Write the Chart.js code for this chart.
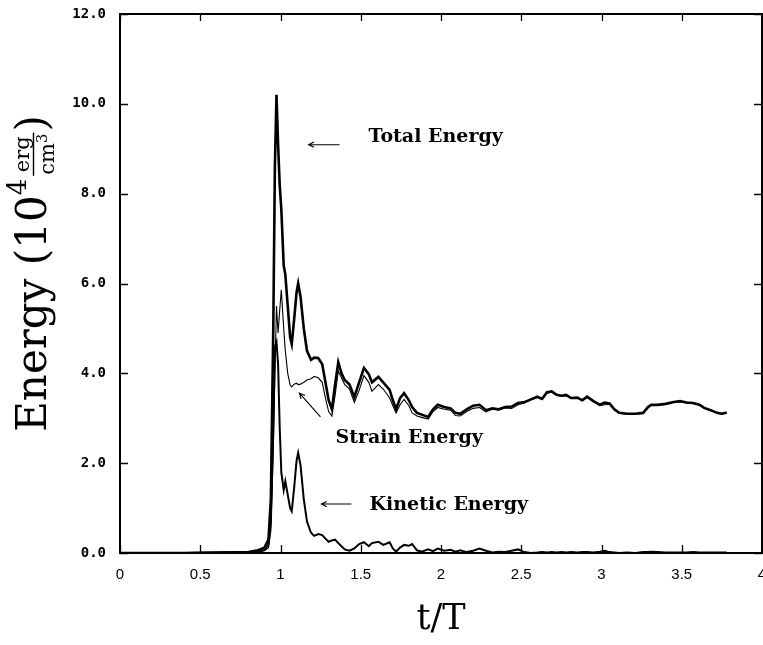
<!DOCTYPE html>
<html>
<head>
<meta charset="utf-8">
<title>Energy vs t/T</title>
<script src="https://cdn.jsdelivr.net/npm/chart.js@4.4.1/dist/chart.umd.min.js"></script>
<style>
  html, body { margin: 0; padding: 0; background: #fff; overflow: hidden; }
  canvas { display: block; }
</style>
</head>
<body>
<canvas id="energy-chart" width="763" height="645"></canvas>
<script>
// === Energy history: total / strain / kinetic ===

// time axis (t/T), shared by the three curves
const tT = [
  0.00, 0.40, 0.80, 0.86, 0.90, 0.925, 0.94, 0.955, 0.965, 0.975,
  0.985, 0.995, 1.005, 1.02, 1.03, 1.045, 1.06, 1.07, 1.085, 1.10,
  1.11, 1.125, 1.145, 1.165, 1.19, 1.21, 1.235, 1.26, 1.28, 1.30,
  1.32, 1.34, 1.36, 1.38, 1.40, 1.43, 1.46, 1.49, 1.52, 1.55,
  1.57, 1.61, 1.64, 1.68, 1.70, 1.72, 1.745, 1.77, 1.80, 1.82,
  1.85, 1.88, 1.92, 1.95, 1.98, 2.02, 2.06, 2.09, 2.12, 2.16,
  2.20, 2.24, 2.28, 2.32, 2.36, 2.40, 2.44, 2.48, 2.52, 2.56,
  2.60, 2.63, 2.66, 2.69, 2.72, 2.75, 2.78, 2.81, 2.85, 2.88,
  2.91, 2.95, 2.99, 3.02, 3.05, 3.08, 3.11, 3.16, 3.21, 3.26,
  3.29, 3.31, 3.35, 3.40, 3.45, 3.49, 3.53, 3.57, 3.61, 3.64,
  3.68, 3.72, 3.75, 3.78
];

// Energy (10^4 erg/cm^3)
const totalEnergy = [
  0, 0, 0.02, 0.06, 0.12, 0.30, 1.2, 5.0, 8.6, 10.2,
  9.1, 8.2, 7.66, 6.4, 6.2, 5.5, 4.8, 4.65, 5.2, 5.8,
  6.0, 5.7, 5.0, 4.5, 4.3, 4.35, 4.34, 4.2, 3.8, 3.4,
  3.2, 3.75, 4.25, 4.0, 3.85, 3.75, 3.47, 3.8, 4.12, 3.98,
  3.8, 3.92, 3.8, 3.63, 3.4, 3.2, 3.45, 3.56, 3.4, 3.25,
  3.12, 3.08, 3.03, 3.2, 3.3, 3.25, 3.22, 3.12, 3.1, 3.2,
  3.28, 3.3, 3.18, 3.22, 3.2, 3.25, 3.26, 3.34, 3.36, 3.42,
  3.48, 3.43, 3.58, 3.6, 3.52, 3.5, 3.52, 3.45, 3.46, 3.4,
  3.48, 3.38, 3.3, 3.35, 3.33, 3.2, 3.12, 3.1, 3.1, 3.12,
  3.25, 3.3, 3.3, 3.32, 3.36, 3.38, 3.35, 3.34, 3.3, 3.23,
  3.18, 3.12, 3.1, 3.13
];

const strainEnergy = [
  0, 0, 0, 0.02, 0.05, 0.12, 0.5, 2.3, 4.0, 5.5,
  4.9, 5.4, 5.86, 5.0, 4.5, 4.0, 3.74, 3.7, 3.76, 3.78,
  3.75, 3.76, 3.8, 3.85, 3.88, 3.93, 3.9, 3.8, 3.45, 3.15,
  3.05, 3.5, 4.05, 3.9, 3.75, 3.65, 3.35, 3.62, 3.95, 3.8,
  3.6, 3.75, 3.65, 3.45, 3.28, 3.12, 3.3, 3.42, 3.28, 3.12,
  3.05, 3.02, 2.98, 3.15, 3.24, 3.2, 3.18, 3.06, 3.05, 3.15,
  3.22, 3.24, 3.14, 3.2, 3.18, 3.23, 3.22, 3.3, 3.34, 3.41,
  3.46, 3.42, 3.56, 3.58, 3.51, 3.49, 3.5, 3.44, 3.45, 3.39,
  3.46, 3.37, 3.28, 3.3, 3.31, 3.19, 3.11, 3.09, 3.09, 3.1,
  3.23, 3.28, 3.28, 3.31, 3.35, 3.37, 3.34, 3.33, 3.29, 3.22,
  3.17, 3.11, 3.09, 3.12
];

const kineticEnergy = [
  0, 0, 0.02, 0.04, 0.07, 0.18, 0.7, 2.7, 4.6, 4.7,
  4.2, 2.8, 1.8, 1.4, 1.6, 1.3, 1.0, 0.93, 1.45, 2.05,
  2.23, 1.95, 1.2, 0.7, 0.45, 0.38, 0.42, 0.4, 0.32, 0.25,
  0.28, 0.3, 0.22, 0.15, 0.08, 0.05, 0.1, 0.2, 0.24, 0.15,
  0.22, 0.25, 0.18, 0.24, 0.1, 0.03, 0.12, 0.18, 0.16, 0.2,
  0.06, 0.03, 0.08, 0.04, 0.1, 0.05, 0.07, 0.03, 0.06, 0.02,
  0.05, 0.1, 0.05, 0.01, 0.03, 0.02, 0.05, 0.08, 0.02, 0.0,
  0.01, 0.02, 0.01, 0.02, 0.01, 0.02, 0.01, 0.02, 0.01, 0.02,
  0.02, 0.01, 0.03, 0.05, 0.02, 0.01, 0.0, 0.01, 0.0, 0.02,
  0.02, 0.03, 0.02, 0.01, 0.01, 0.01, 0.01, 0.02, 0.01, 0.01,
  0.01, 0.01, 0.01, 0.01
];

// tick labels
const xTicks = [0, 0.5, 1, 1.5, 2, 2.5, 3, 3.5, 4];
const yTicks = [0, 2, 4, 6, 8, 10, 12];

const toPoints = (ys) => tT.map((x, i) => ({ x, y: ys[i] }));

// frame with inward ticks on all four sides
const framePlugin = {
  id: 'frame',
  afterDatasetsDraw(chart) {
    const { ctx, chartArea: a, scales: { x, y } } = chart;
    ctx.save();
    ctx.strokeStyle = '#000';
    ctx.lineWidth = 2;
    ctx.strokeRect(a.left, a.top, a.right - a.left, a.bottom - a.top);
    ctx.lineWidth = 1.3;
    ctx.beginPath();
    xTicks.forEach(v => {
      const px = Math.round(x.getPixelForValue(v)) + 0.5;
      ctx.moveTo(px, a.bottom); ctx.lineTo(px, a.bottom - 8);
      ctx.moveTo(px, a.top); ctx.lineTo(px, a.top + 7);
    });
    yTicks.forEach(v => {
      const py = Math.round(y.getPixelForValue(v)) + 0.5;
      ctx.moveTo(a.left, py); ctx.lineTo(a.left + 8, py);
      ctx.moveTo(a.right, py); ctx.lineTo(a.right - 8, py);
    });
    ctx.stroke();
    ctx.restore();
  }
};

// curve labels with arrows, anchored in data units
const labelPlugin = {
  id: 'curveLabels',
  afterDraw(chart) {
    const { ctx, scales: { x, y } } = chart;
    const notes = [
      { text: 'Total Energy',   t: 1.548, e: 9.27, from: [1.368, 9.09], to: [1.175, 9.09] },
      { text: 'Strain Energy',  t: 1.343, e: 2.56, from: [1.249, 3.03], to: [1.118, 3.56] },
      { text: 'Kinetic Energy', t: 1.555, e: 1.07, from: [1.442, 1.09], to: [1.255, 1.09] }
    ];
    ctx.save();
    ctx.fillStyle = '#000';
    ctx.strokeStyle = '#000';
    ctx.font = 'bold 19px "DejaVu Serif"';
    ctx.textBaseline = 'middle';
    ctx.textAlign = 'left';
    notes.forEach(n => {
      ctx.fillText(n.text, x.getPixelForValue(n.t), y.getPixelForValue(n.e));
      const x1 = x.getPixelForValue(n.from[0]), y1 = y.getPixelForValue(n.from[1]);
      const x2 = x.getPixelForValue(n.to[0]), y2 = y.getPixelForValue(n.to[1]);
      const ang = Math.atan2(y2 - y1, x2 - x1);
      ctx.lineWidth = 1.1;
      ctx.beginPath();
      ctx.moveTo(x1, y1); ctx.lineTo(x2, y2);
      ctx.moveTo(x2 - 6 * Math.cos(ang - 0.45), y2 - 6 * Math.sin(ang - 0.45));
      ctx.lineTo(x2, y2);
      ctx.lineTo(x2 - 6 * Math.cos(ang + 0.45), y2 - 6 * Math.sin(ang + 0.45));
      ctx.stroke();
    });
    ctx.restore();
  }
};

// rotated y title: Energy (10^4 erg/cm^3)
const yTitlePlugin = {
  id: 'yTitle',
  afterDraw(chart) {
    const { ctx, chartArea: a } = chart;
    const big = '42px "DejaVu Serif"';
    const sup = '26px "DejaVu Serif"';
    const frac = '21px "DejaVu Serif"';
    const tiny = '15px "DejaVu Serif"';
    ctx.save();
    ctx.fillStyle = '#000';
    ctx.strokeStyle = '#000';
    ctx.textBaseline = 'alphabetic';
    ctx.textAlign = 'left';
    ctx.font = big;
    const wEnergy = ctx.measureText('Energy ').width;
    const wOpen = ctx.measureText('(').width;
    const wTen = ctx.measureText('10').width;
    const wClose = ctx.measureText(')').width;
    ctx.font = sup;
    const wFour = ctx.measureText('4').width;
    ctx.font = frac;
    const wNum = ctx.measureText('erg').width;
    const wDen = ctx.measureText('cm').width;
    ctx.font = tiny;
    const wThree = ctx.measureText('3').width;
    const wFrac = Math.max(wNum, wDen + wThree) + 4;
    const total = wEnergy + wOpen + wTen + wFour + 2 + wFrac + wClose;

    ctx.translate(46, (a.top + a.bottom) / 2 - 10);
    ctx.rotate(-Math.PI / 2);
    let cx = -total / 2;
    ctx.font = big;
    ctx.fillText('Energy', cx, 0); cx += wEnergy;
    ctx.fillText('(', cx, 0); cx += wOpen;
    ctx.fillText('10', cx, 0); cx += wTen;
    ctx.font = sup;
    ctx.fillText('4', cx, -20); cx += wFour + 2;
    // fraction
    const mid = cx + wFrac / 2;
    ctx.font = frac;
    ctx.textAlign = 'center';
    ctx.fillText('erg', mid, -17);
    ctx.fillText('cm', mid - wThree / 2, 8);
    ctx.textAlign = 'left';
    ctx.font = tiny;
    ctx.fillText('3', mid - wThree / 2 + wDen / 2, 1);
    ctx.lineWidth = 1.4;
    ctx.beginPath();
    ctx.moveTo(cx + 1, -12.5); ctx.lineTo(cx + wFrac - 1, -12.5);
    ctx.stroke();
    cx += wFrac;
    ctx.font = big;
    ctx.fillText(')', cx, 0);
    ctx.restore();
  }
};

new Chart(document.getElementById('energy-chart'), {
  type: 'scatter',
  data: {
    datasets: [
      {
        label: 'Total Energy',
        data: toPoints(totalEnergy),
        showLine: true,
        borderColor: '#000',
        borderWidth: 2.6,
        pointRadius: 0,
        tension: 0
      },
      {
        label: 'Strain Energy',
        data: toPoints(strainEnergy),
        showLine: true,
        borderColor: '#000',
        borderWidth: 1.1,
        pointRadius: 0,
        tension: 0
      },
      {
        label: 'Kinetic Energy',
        data: toPoints(kineticEnergy),
        showLine: true,
        borderColor: '#000',
        borderWidth: 2,
        pointRadius: 0,
        tension: 0
      }
    ]
  },
  options: {
    responsive: false,
    animation: false,
    devicePixelRatio: 1,
    layout: { padding: { top: 14, right: 1, left: 0, bottom: 0 } },
    plugins: { legend: { display: false }, tooltip: { enabled: false } },
    scales: {
      x: {
        type: 'linear',
        min: 0,
        max: 4,
        afterBuildTicks: s => { s.ticks = xTicks.map(v => ({ value: v })); },
        ticks: {
          color: '#000',
          padding: 13,
          maxRotation: 0,
          font: { family: '"Liberation Sans"', size: 15 },
          callback: v => String(v)
        },
        grid: { display: false, drawTicks: false },
        border: { display: false },
        title: {
          display: true,
          text: 't/T',
          color: '#000',
          font: { family: '"DejaVu Serif"', size: 35 },
          padding: { top: 0, bottom: 4 }
        },
        afterFit: s => { s.height = 92; s.paddingLeft = 0; s.paddingRight = 0; }
      },
      y: {
        min: 0,
        max: 12,
        afterBuildTicks: s => { s.ticks = yTicks.map(v => ({ value: v })); },
        ticks: {
          color: '#000',
          padding: 14,
          font: { family: '"DejaVu Sans Mono"', size: 14, weight: 'bold' },
          callback: v => v.toFixed(1)
        },
        grid: { display: false, drawTicks: false },
        border: { display: false },
        afterFit: s => { s.width = 120; s.paddingTop = 0; s.paddingBottom = 0; }
      }
    }
  },
  plugins: [framePlugin, labelPlugin, yTitlePlugin]
});
</script>
</body>
</html>
